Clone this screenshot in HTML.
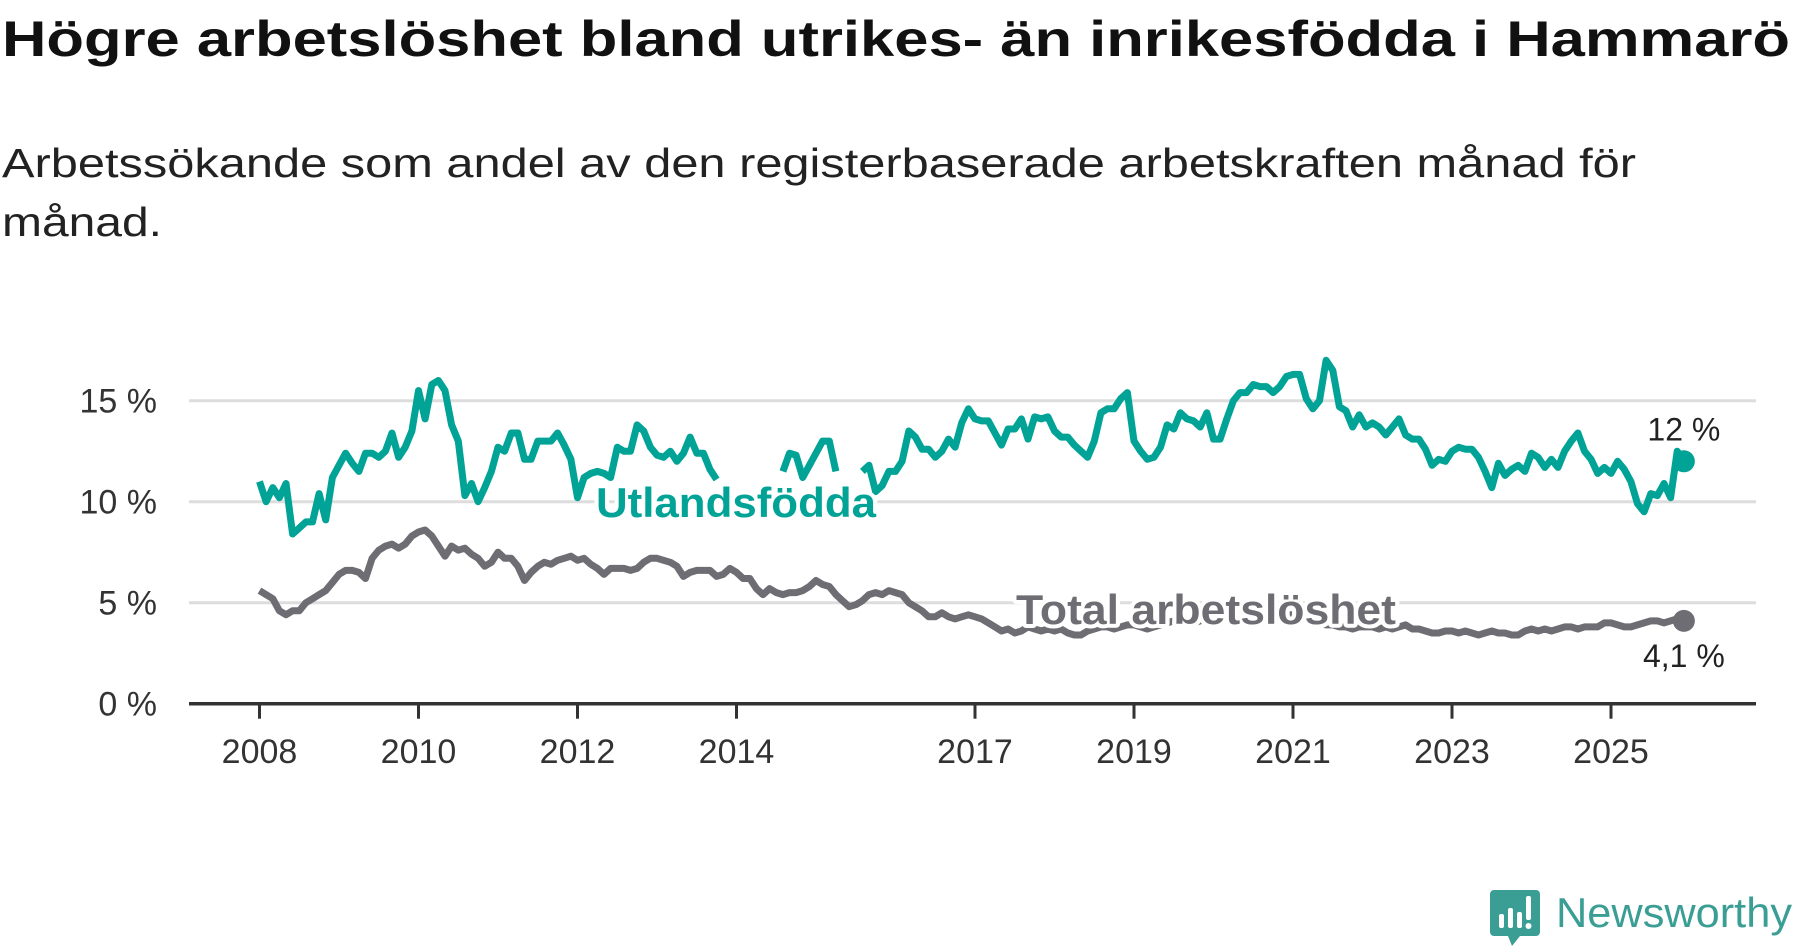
<!DOCTYPE html>
<html><head><meta charset="utf-8"><style>
html,body{margin:0;padding:0;background:#fff;}
svg{display:block;font-family:"Liberation Sans",sans-serif;}
</style></head><body>
<svg id="chart" width="1800" height="948" viewBox="0 0 1800 948">
<text x="2" y="56" font-size="50" font-weight="bold" fill="#111" textLength="1788" lengthAdjust="spacingAndGlyphs">Högre arbetslöshet bland utrikes- än inrikesfödda i Hammarö</text>
<text x="2" y="177" font-size="41" fill="#222" textLength="1634" lengthAdjust="spacingAndGlyphs">Arbetssökande som andel av den registerbaserade arbetskraften månad för</text>
<text x="2" y="236" font-size="41" fill="#222" textLength="160" lengthAdjust="spacingAndGlyphs">månad.</text>
<g id="grid"></g>
<g id="yaxis"></g>
<g id="xaxis"></g>
<g id="series"></g>
<g>
<path d="M1494 890 h42 a4 4 0 0 1 4 4 v38 a4 4 0 0 1 -4 4 h-16 l-8 10 l-4 -10 h-14 a4 4 0 0 1 -4 -4 v-38 a4 4 0 0 1 4 -4z" fill="#3a9e95"/>
<rect x="1499" y="914" width="5" height="14" rx="2" fill="#fff"/>
<rect x="1508" y="908" width="5" height="20" rx="2" fill="#fff"/>
<rect x="1517" y="912" width="5" height="16" rx="2" fill="#fff"/>
<rect x="1526" y="896" width="5" height="24" rx="2" fill="#fff"/>
<circle cx="1528.5" cy="926" r="3" fill="#fff"/>
<text x="1556" y="927" font-size="42" fill="#3a9e95" textLength="236" lengthAdjust="spacingAndGlyphs">Newsworthy</text>
</g>
</svg>
<script>
const yTicks = [0, 5, 10, 15];
const yTickLabels = ["0 %", "5 %", "10 %", "15 %"];
const xTickYears = [2008, 2010, 2012, 2014, 2017, 2019, 2021, 2023, 2025];
const startYear = 2008;
const utlandsfodda = [
11.0,10.0,10.7,10.2,10.9,8.4,8.7,9.0,9.0,10.4,9.1,11.2,
11.8,12.4,11.9,11.5,12.4,12.4,12.2,12.5,13.4,12.2,12.7,13.5,
15.5,14.1,15.8,16.0,15.5,13.8,13.0,10.3,10.9,10.0,10.7,11.5,
12.7,12.5,13.4,13.4,12.1,12.1,13.0,13.0,13.0,13.4,12.8,12.1,
10.2,11.2,11.4,11.5,11.4,11.2,12.7,12.5,12.5,13.8,13.5,12.7,
12.3,12.2,12.5,12.0,12.4,13.2,12.4,12.4,11.6,11.1,null,null,
null,null,null,null,null,null,null,11.5,12.4,12.3,11.2,11.8,
12.4,13.0,13.0,11.5,null,null,null,11.5,11.8,10.5,10.8,11.5,
11.5,12.0,13.5,13.2,12.6,12.6,12.2,12.5,13.1,12.7,13.9,14.6,
14.1,14.0,14.0,13.4,12.8,13.6,13.6,14.1,13.1,14.2,14.1,14.2,
13.5,13.2,13.2,12.8,12.5,12.2,13.0,14.4,14.6,14.6,15.1,15.4,
13.0,12.5,12.1,12.2,12.7,13.8,13.6,14.4,14.1,14.0,13.7,14.4,
13.1,13.1,14.1,15.0,15.4,15.4,15.8,15.7,15.7,15.4,15.7,16.2,
16.3,16.3,15.1,14.6,15.0,17.0,16.5,14.7,14.5,13.7,14.3,13.7,
13.9,13.7,13.3,13.7,14.1,13.3,13.1,13.1,12.6,11.8,12.1,12.0,
12.5,12.7,12.6,12.6,12.2,11.5,10.7,11.9,11.3,11.6,11.8,11.5,
12.4,12.2,11.7,12.1,11.7,12.5,13.0,13.4,12.5,12.1,11.4,11.7,
11.4,12.0,11.6,11.0,9.9,9.5,10.4,10.3,10.9,10.2,12.5,12.0];
const total = [
5.6,5.4,5.2,4.6,4.4,4.6,4.6,5.0,5.2,5.4,5.6,6.0,
6.4,6.6,6.6,6.5,6.2,7.2,7.6,7.8,7.9,7.7,7.9,8.3,
8.5,8.6,8.3,7.8,7.3,7.8,7.6,7.7,7.4,7.2,6.8,7.0,
7.5,7.2,7.2,6.8,6.1,6.5,6.8,7.0,6.9,7.1,7.2,7.3,
7.1,7.2,6.9,6.7,6.4,6.7,6.7,6.7,6.6,6.7,7.0,7.2,
7.2,7.1,7.0,6.8,6.3,6.5,6.6,6.6,6.6,6.3,6.4,6.7,
6.5,6.2,6.2,5.7,5.4,5.7,5.5,5.4,5.5,5.5,5.6,5.8,
6.1,5.9,5.8,5.4,5.1,4.8,4.9,5.1,5.4,5.5,5.4,5.6,
5.5,5.4,5.0,4.8,4.6,4.3,4.3,4.5,4.3,4.2,4.3,4.4,
4.3,4.2,4.0,3.8,3.6,3.7,3.5,3.6,3.8,3.7,3.6,3.7,
3.6,3.7,3.5,3.4,3.4,3.6,3.7,3.8,3.8,3.7,3.8,3.9,
3.9,3.8,3.7,3.8,3.9,4.0,4.1,4.1,4.0,4.0,4.1,4.3,
4.5,4.6,4.7,4.8,4.7,4.6,4.5,4.4,4.3,4.2,4.3,4.4,
4.4,4.3,4.2,4.1,4.0,3.9,3.9,3.8,3.8,3.7,3.8,3.8,
3.8,3.7,3.8,3.7,3.8,3.9,3.7,3.7,3.6,3.5,3.5,3.6,
3.6,3.5,3.6,3.5,3.4,3.5,3.6,3.5,3.5,3.4,3.4,3.6,
3.7,3.6,3.7,3.6,3.7,3.8,3.8,3.7,3.8,3.8,3.8,4.0,
4.0,3.9,3.8,3.8,3.9,4.0,4.1,4.1,4.0,4.1,4.2,4.1];
const seriesNames = ["Utlandsfödda", "Total arbetslöshet"];
const endLabels = ["12 %", "4,1 %"];

const NS = "http://www.w3.org/2000/svg";
const X0 = 189, X1 = 1756;
function xYear(y) { return 259.5 + (y - startYear) * 79.5; }
function xMonth(i) { return xYear(startYear + i / 12); }
function yVal(v) { return 703.7 - v * 20.2; }
function mk(tag, attrs, parent) {
  const e = document.createElementNS(NS, tag);
  for (const k in attrs) e.setAttribute(k, attrs[k]);
  parent.appendChild(e);
  return e;
}
const grid = document.getElementById('grid');
const yaxis = document.getElementById('yaxis');
const xaxis = document.getElementById('xaxis');
const series = document.getElementById('series');

yTicks.forEach((t, i) => {
  if (t !== 0) {
    const g = mk('line', {x1: X0, x2: X1, y1: yVal(t), y2: yVal(t), stroke: '#dddddd', 'stroke-width': 3}, grid);
    
    
  }
  const l = mk('text', {x: 157, y: yVal(t) + 12, 'font-size': 34, 'text-anchor': 'end', fill: '#333'}, yaxis);
  l.textContent = yTickLabels[i];
  
  
});
const ax = mk('line', {x1: X0, x2: X1, y1: yVal(0), y2: yVal(0), stroke: '#333', 'stroke-width': 3.5}, xaxis);


xTickYears.forEach(yr => {
  const x = xYear(yr);
  const tk = mk('line', {x1: x, x2: x, y1: yVal(0), y2: yVal(0) + 15, stroke: '#333', 'stroke-width': 3}, xaxis);
  
  
  const tl = mk('text', {x: x, y: 763, 'font-size': 34, 'text-anchor': 'middle', fill: '#333'}, xaxis);
  tl.textContent = yr;
  
  
});

function drawLine(vals, color, name) {
  let d = '', pen = false;
  vals.forEach((v, i) => {
    if (v === null) { pen = false; return; }
    d += (pen ? 'L' : 'M') + xMonth(i).toFixed(1) + ' ' + yVal(v).toFixed(1);
    pen = true;
  });
  const p = mk('path', {d: d, fill: 'none', stroke: color, 'stroke-width': 7, 'stroke-linejoin': 'round'}, series);
  
  
  const li = vals.length - 1;
  const c = mk('circle', {cx: xMonth(li), cy: yVal(vals[li]), r: 11, fill: color}, series);
  
  
}
drawLine(total, '#6e6d73', 'total-line');
drawLine(utlandsfodda, '#00a396', 'utlandsfodda-line');

const lbl1 = mk('text', {x: 736, y: 517, 'font-size': 42, 'font-weight': 'bold', 'text-anchor': 'middle', textLength: 280, lengthAdjust: 'spacingAndGlyphs', fill: '#00a396', stroke: '#fff', 'stroke-width': 8, 'paint-order': 'stroke', 'stroke-linejoin': 'round'}, series);
lbl1.textContent = seriesNames[0];


const lbl2 = mk('text', {x: 1206, y: 624, 'font-size': 42, 'font-weight': 'bold', 'text-anchor': 'middle', textLength: 380, lengthAdjust: 'spacingAndGlyphs', fill: '#6e6d73', stroke: '#fff', 'stroke-width': 8, 'paint-order': 'stroke', 'stroke-linejoin': 'round'}, series);
lbl2.textContent = seriesNames[1];



const li = utlandsfodda.length - 1;
const e1 = mk('text', {x: xMonth(li), y: yVal(utlandsfodda[li]) - 21, 'font-size': 32, 'text-anchor': 'middle', fill: '#222', stroke: '#fff', 'stroke-width': 5, 'paint-order': 'stroke'}, series);
e1.textContent = endLabels[0];


const e2 = mk('text', {x: xMonth(li), y: yVal(total[li]) + 46, 'font-size': 32, 'text-anchor': 'middle', fill: '#222', stroke: '#fff', 'stroke-width': 5, 'paint-order': 'stroke'}, series);
e2.textContent = endLabels[1];


</script>
</body></html>
